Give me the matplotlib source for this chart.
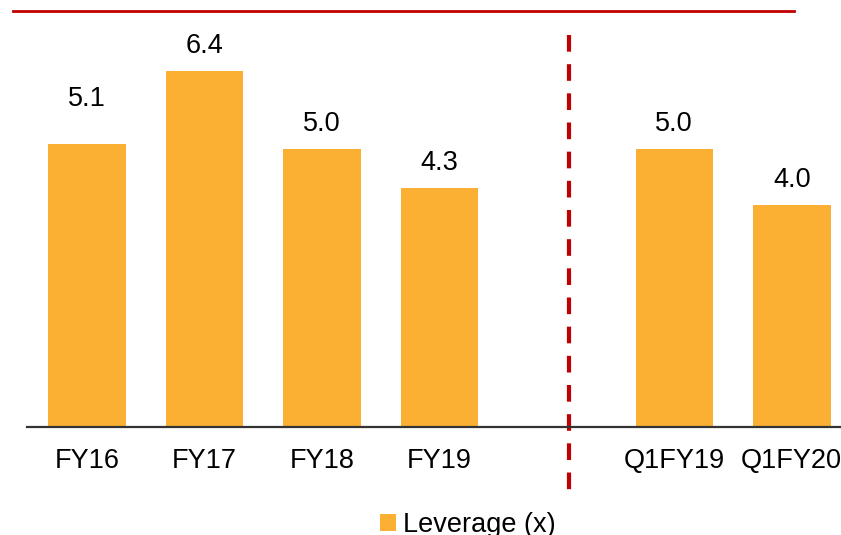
import matplotlib.pyplot as plt
from matplotlib.lines import Line2D

plt.rcParams["font.family"] = ["Liberation Sans", "DejaVu Sans"]

categories = ["FY16", "FY17", "FY18", "FY19", "Q1FY19", "Q1FY20"]
positions = [0, 1, 2, 3, 5, 6]
leverage = [5.1, 6.4, 5.0, 4.3, 5.0, 4.0]

bar_color = "#FBB034"
red = "#C00000"

fig = plt.figure(figsize=(8.41, 5.35), dpi=100)
ax = fig.add_axes([0.0321, 0.2019, 0.968, 0.779])

ax.bar(positions, leverage, width=0.66, color=bar_color, label="Leverage (x)")

for i, (x, v) in enumerate(zip(positions, leverage)):
    extra = 14 if i == 0 else 0
    ax.annotate(f"{v:.1f}", (x, v), xytext=(0, 18 + extra), textcoords="offset points",
                ha="center", va="center", fontsize=19.5)

ax.set_xlim(-0.51, 6.42)
ax.set_ylim(0, 7.5)
ax.set_xticks(positions)
ax.set_xticklabels(categories, fontsize=19.5)
ax.tick_params(axis="x", length=0, pad=15)
ax.set_yticks([])
for s in ["top", "right", "left"]:
    ax.spines[s].set_visible(False)
ax.spines["bottom"].set_color("#333333")
ax.spines["bottom"].set_linewidth(1.6)

# separator between annual and quarterly figures
ax.plot([4.1, 4.1], [7.05, -1.31], color=red, lw=3, ls=(0, (4, 3)), clip_on=False)

# red rule at the top
fig.add_artist(Line2D([13 / 841, 794 / 841], [1 - 11 / 535, 1 - 11 / 535],
                      color=red, lw=2))

fig.legend(loc="center", bbox_to_anchor=(0.556, 0.018), frameon=False, fontsize=19.5,
           handlelength=0.6, handleheight=0.6, handletextpad=0.25)

fig.savefig("out.png", dpi=100)
plt.close(fig)
